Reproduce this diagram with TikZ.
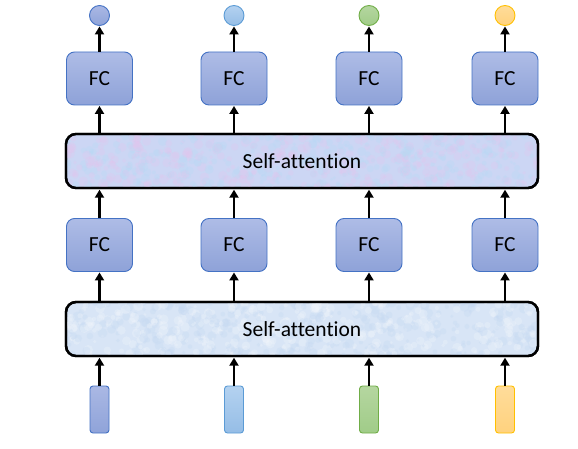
\documentclass[tikz,border=0pt]{standalone}
\usepackage{fontspec}
\setmainfont[Ligatures=NoCommon]{Carlito}
\usetikzlibrary{arrows.meta}
\definecolor{fcline}{HTML}{4472C4}
\definecolor{fctop}{HTML}{AEBCE6}
\definecolor{fcbot}{HTML}{8EA2D8}
\definecolor{bluetop}{HTML}{AAB8E4}
\definecolor{bluebot}{HTML}{8FA3D9}
\definecolor{skytop}{HTML}{B4D2F0}
\definecolor{skybot}{HTML}{95BDE6}
\definecolor{skyline}{HTML}{5B9BD5}
\definecolor{greentop}{HTML}{B5D6A0}
\definecolor{greenbot}{HTML}{A0CC88}
\definecolor{greenline}{HTML}{70AD47}
\definecolor{yellowtop}{HTML}{FFDC9A}
\definecolor{yellowbot}{HTML}{FFD27E}
\definecolor{yellowline}{HTML}{FFC000}
\definecolor{satop}{HTML}{CCD6F4}
\definecolor{sabot}{HTML}{D8E5F6}
\definecolor{specka}{HTML}{E2C6EE}
\definecolor{speckb}{HTML}{B8DAF4}
\definecolor{speckc}{HTML}{F2F6FC}
\definecolor{speckd}{HTML}{C4D8F2}
\tikzset{
  x=1pt, y=-1pt,
  fcbox/.style={draw=fcline, line width=0.9pt, rounded corners=8pt,
    top color=fctop, bottom color=fcbot, minimum width=66pt, minimum height=53pt,
    font=\fontsize{21.5}{24}\selectfont, inner sep=0pt},
  sabox/.style={draw=black, line width=2.4pt, rounded corners=10pt,
    minimum width=472pt, minimum height=54pt,
    font=\fontsize{21.5}{24}\selectfont, inner sep=0pt},
  outdot/.style={circle, line width=0.9pt, minimum size=20pt, inner sep=0pt},
  inbar/.style={rounded corners=3pt, line width=0.9pt, minimum width=19pt,
    minimum height=47pt, inner sep=0pt},
  flow/.style={line width=2.5pt, -{Triangle[length=8pt,width=9pt]}, shorten >=0.5pt},
}
% mottled paper texture inside a box: #1 node, #2/#3 speck colours, #4 opacity
\newcommand{\mottle}[4]{%
  \begin{scope}
    \clip[rounded corners=10pt] (#1.north west) rectangle (#1.south east);
    \foreach \k in {1,...,700}{
      \pgfmathsetmacro{\px}{66+472*rnd}
      \pgfmathsetmacro{\py}{-27+54*rnd}
      \pgfmathsetmacro{\pr}{1.5+3.5*rnd}
      \pgfmathtruncatemacro{\pc}{mod(\k,2)}
      \ifnum\pc=0
        \fill[#2, opacity=#4] (\px,{\py+\ystart}) circle (\pr);
      \else
        \fill[#3, opacity=#4] (\px,{\py+\ystart}) circle (\pr);
      \fi
    }
  \end{scope}}
\begin{document}
\begin{tikzpicture}
\useasboundingbox (0,0) rectangle (578,449);
\pgfmathsetseed{7}

% attention layers
\node[sabox, fill=satop] (sa2) at (302,161) {};
\def\ystart{161}
\mottle{sa2}{specka}{speckb}{0.3}
\node[sabox, fill=none] at (sa2) {Self-attention};

\node[sabox, fill=sabot] (sa1) at (302,329) {};
\def\ystart{329}
\mottle{sa1}{speckc}{speckd}{0.3}
\node[sabox, fill=none] at (sa1) {Self-attention};

% column-wise nodes
\foreach \i/\x in {1/99.5, 2/234, 3/369, 4/505}{
  \node[fcbox] (fcb\i) at (\x,245) {FC};
  \node[fcbox] (fct\i) at (\x,78.5) {FC};
}
\node[outdot, draw=fcline, top color=bluetop, bottom color=bluebot] (o1) at (99.5,15.5) {};
\node[outdot, draw=skyline, top color=skytop, bottom color=skybot] (o2) at (234,15.5) {};
\node[outdot, draw=greenline, top color=greentop, bottom color=greenbot] (o3) at (369,15.5) {};
\node[outdot, draw=yellowline, top color=yellowtop, bottom color=yellowbot] (o4) at (505,15.5) {};

\node[inbar, draw=fcline, top color=bluetop, bottom color=bluebot] (in1) at (99.5,409.5) {};
\node[inbar, draw=skyline, top color=skytop, bottom color=skybot] (in2) at (234,409.5) {};
\node[inbar, draw=greenline, top color=greentop, bottom color=greenbot] (in3) at (369,409.5) {};
\node[inbar, draw=yellowline, top color=yellowtop, bottom color=yellowbot] (in4) at (505,409.5) {};

% connectors
\foreach \i in {1,2,3,4}{
  \draw[flow] (in\i.north) -- (in\i.north |- sa1.south);
  \draw[flow] (fcb\i.south |- sa1.north) -- (fcb\i.south);
  \draw[flow] (fcb\i.north) -- (fcb\i.north |- sa2.south);
  \draw[flow] (fct\i.south |- sa2.north) -- (fct\i.south);
  \draw[flow] (fct\i.north) -- (o\i.south);
}
\end{tikzpicture}
\end{document}
